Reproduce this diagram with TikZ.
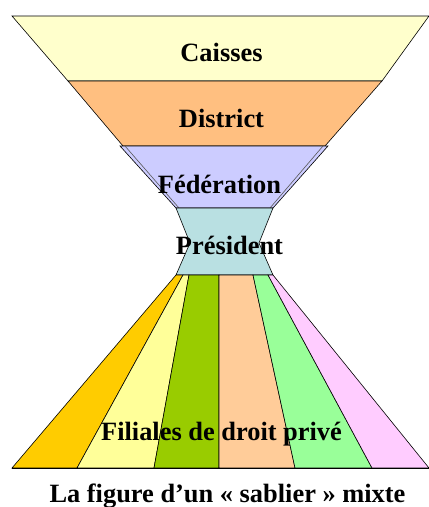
\documentclass[tikz,border=0pt]{standalone}
\usepackage{fontspec}
\setmainfont{Liberation Serif}
\definecolor{caisses}{HTML}{FFFFCC}
\definecolor{district}{HTML}{FFBF80}
\definecolor{federation}{HTML}{CCCCFF}
\definecolor{president}{HTML}{B9E0E2}
\definecolor{filA}{HTML}{FFCC00}
\definecolor{filB}{HTML}{FFFF99}
\definecolor{filC}{HTML}{99CC00}
\definecolor{filD}{HTML}{FFCC99}
\definecolor{filE}{HTML}{99FF99}
\definecolor{filF}{HTML}{FFCCFF}

\begin{document}
\begin{tikzpicture}[x=1pt,y=-1pt,line width=0.6pt,
	lbl/.style={font=\bfseries\fontsize{26.4}{30}\selectfont,anchor=base,inner sep=0pt}]
	\useasboundingbox (0,0) rectangle (429,507);
	\draw[fill=caisses] (12,16) -- (429,16) -- (382,81) -- (68,81) -- cycle;
	\draw[fill=district] (68,81) -- (382,81) -- (325,146) -- (123,146) -- cycle;
	\draw[fill=federation] (120,146) -- (328,146) -- (273,208) -- (176,208) -- cycle;
	\draw[gray!70!black] (125,146) -- (179,208) (323,146) -- (270,208);
	\draw[fill=president] (176,208) -- (273,208) -- (259,243) -- (273,275) -- (176,275) -- (190,243) -- cycle;
	\foreach \ta/\tb/\ba/\bb/\col in {176/183/12/77/filA, 183/189/77/154/filB, 189/219/154/219/filC, 219/253/219/295/filD, 253/268/295/372/filE, 268/273/372/429/filF}
		\draw[fill=\col] (\ta,275) -- (\tb,275) -- (\bb,468) -- (\ba,468) -- cycle;
	\draw[line width=1pt] (12,468) -- (429,468);
	\node[lbl] (caisses) at (221.5,61) {Caisses};
	\node[lbl] (district) at (221.5,127) {District};
	\node[lbl] (federation) at (219.5,193) {Fédération};
	\node[lbl] (president) at (229.5,254) {Président};
	\node[lbl] (filiales) at (221.5,440) {Filiales de droit privé};
	\node[lbl] (titre) at (227.5,502) {La figure d’un « sablier » mixte};
\end{tikzpicture}
\end{document}
